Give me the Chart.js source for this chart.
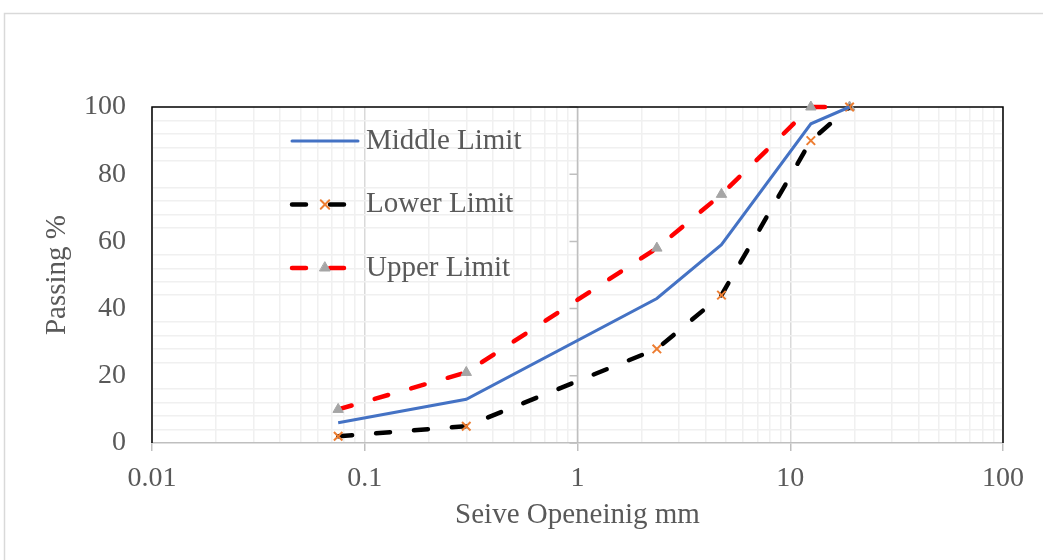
<!DOCTYPE html>
<html>
<head>
<meta charset="utf-8">
<script src="https://cdn.jsdelivr.net/npm/chart.js@4.4.1/dist/chart.umd.min.js"></script>
<style>
    body { margin: 0; background: #ffffff; overflow: hidden; }
</style>
</head>
<body>
<canvas id="grafico-peneira" width="1043" height="560"></canvas>
<script>
// Dados
const aberturas = [0.075, 0.3, 2.36, 4.75, 12.5, 19];
const limiteMedio = [6, 13, 43, 59, 95, 100];
const limiteInferior = [2, 5, 28, 44, 90, 100];
const limiteSuperior = [10, 21, 58, 74, 100, 100];
const nomesSeries = ['Middle Limit', 'Lower Limit', 'Upper Limit'];
const rotulosX = [0.01, 0.1, 1, 10, 100];
const rotulosY = [0, 20, 40, 60, 80, 100];

const corTexto = '#595959';
const fonteSerif = 'Liberation Serif';

// ticks do eixo log: decadas + 2..9 de cada decada
let ticksX = [];
for (var i = 0; i < rotulosX.length; i++) {
    ticksX.push(rotulosX[i]);
    if (i < rotulosX.length - 1) {
        for (var m = 2; m <= 9; m++) {
            ticksX.push(+(rotulosX[i] * m).toPrecision(3));
        }
    }
}

function pontos(valores) {
    return aberturas.map((x, i) => ({ x: x, y: valores[i] }));
}

const moldura = {
    id: 'moldura',
    beforeDraw(chart) {
        const ctx = chart.ctx;
        ctx.save();
        ctx.fillStyle = '#ffffff';
        ctx.fillRect(0, 0, chart.width, chart.height);
        ctx.strokeStyle = '#d9d9d9';
        ctx.lineWidth = 1.5;
        ctx.strokeRect(4.5, 13.5, chart.width + 10, chart.height + 10);
        ctx.restore();
    },
    beforeDatasetsDraw(chart) {
        const ctx = chart.ctx;
        const area = chart.chartArea;
        const x = chart.scales.x;
        const y = chart.scales.y;
        ctx.save();
        // eixo vertical cruzando em 1
        const x1 = x.getPixelForValue(1);
        ctx.strokeStyle = '#bfbfbf';
        ctx.lineWidth = 1.5;
        ctx.beginPath();
        ctx.moveTo(x1, area.top);
        ctx.lineTo(x1, area.bottom);
        rotulosY.forEach(v => {
            const py = y.getPixelForValue(v);
            ctx.moveTo(x1 - 8, py);
            ctx.lineTo(x1, py);
        });
        ctx.stroke();
        // borda preta da area de plotagem
        ctx.strokeStyle = '#000000';
        ctx.lineWidth = 1.5;
        ctx.beginPath();
        ctx.moveTo(area.left, area.bottom);
        ctx.lineTo(area.left, area.top);
        ctx.lineTo(area.right, area.top);
        ctx.lineTo(area.right, area.bottom);
        ctx.stroke();
        ctx.restore();
    },
    afterDatasetsDraw(chart) {
        // legenda dentro da area
        const ctx = chart.ctx;
        const area = chart.chartArea;
        const x0 = area.left + 140;
        const x1 = area.left + 206;
        ctx.save();
        chart.data.datasets.forEach((ds, i) => {
            const py = area.top + 34 + i * 63.5;
            ctx.strokeStyle = ds.borderColor;
            ctx.lineWidth = ds.borderWidth;
            ctx.lineCap = 'round';
            ctx.setLineDash(ds.borderDash || []);
            ctx.beginPath();
            ctx.moveTo(x0, py);
            ctx.lineTo(x1, py);
            ctx.stroke();
            ctx.setLineDash([]);
            if (ds.pointRadius > 0) {
                ctx.strokeStyle = ds.pointBorderColor;
                ctx.fillStyle = ds.pointBackgroundColor;
                ctx.lineWidth = ds.pointBorderWidth;
                Chart.helpers.drawPoint(ctx, {
                    pointStyle: ds.pointStyle,
                    radius: ds.pointRadius,
                    borderWidth: ds.pointBorderWidth,
                    rotation: 0
                }, (x0 + x1) / 2, py);
            }
            ctx.fillStyle = corTexto;
            ctx.font = '29px "' + fonteSerif + '"';
            ctx.textBaseline = 'middle';
            ctx.textAlign = 'left';
            ctx.fillText(ds.label, x1 + 8, py);
        });
        ctx.restore();
    }
};

const cty = document.getElementById('grafico-peneira');
const grafico = new Chart(cty, {
    type: 'line',
    data: {
        datasets: [
            {
                label: nomesSeries[0],
                data: pontos(limiteMedio),
                borderColor: '#4472c4',
                borderWidth: 3,
                pointRadius: 0,
                pointHoverRadius: 0,
                tension: 0,
                clip: false
            },
            {
                label: nomesSeries[1],
                data: pontos(limiteInferior),
                borderColor: '#000000',
                borderWidth: 4.5,
                borderDash: [14, 24],
                borderCapStyle: 'round',
                pointStyle: 'crossRot',
                pointRadius: 6,
                pointBorderWidth: 2,
                pointBorderColor: '#ed7d31',
                pointBackgroundColor: '#ed7d31',
                tension: 0,
                clip: false
            },
            {
                label: nomesSeries[2],
                data: pontos(limiteSuperior),
                borderColor: '#ff0000',
                borderWidth: 4.5,
                borderDash: [14, 24],
                borderCapStyle: 'round',
                pointStyle: 'triangle',
                pointRadius: 6,
                pointBorderWidth: 1,
                pointBorderColor: '#a5a5a5',
                pointBackgroundColor: '#a5a5a5',
                tension: 0,
                clip: false
            }
        ]
    },
    options: {
        responsive: false,
        animation: false,
        events: [],
        layout: {
            padding: { top: 107, right: 40, bottom: 0, left: 0 }
        },
        plugins: {
            legend: { display: false },
            tooltip: { enabled: false }
        },
        scales: {
            x: {
                type: 'logarithmic',
                min: 0.01,
                max: 100,
                afterBuildTicks: axis => {
                    axis.ticks = ticksX.map(v => ({ value: v }));
                },
                afterFit: axis => { axis.height = 117; },
                grid: {
                    color: c => rotulosX.includes(c.tick.value) ? '#d9d9d9' : '#f0f0f0',
                    lineWidth: 1.5,
                    tickLength: 8,
                    tickColor: c => rotulosX.includes(c.tick.value) ? '#bfbfbf' : 'rgba(0,0,0,0)',
                    tickWidth: 1.5
                },
                border: { color: '#bfbfbf', width: 1.5 },
                ticks: {
                    autoSkip: false,
                    maxRotation: 0,
                    padding: 11,
                    color: corTexto,
                    font: { family: fonteSerif, size: 28 },
                    callback: function (valor) {
                        return rotulosX.includes(valor) ? String(valor) : '';
                    }
                },
                title: {
                    display: true,
                    text: 'Seive Openeinig mm',
                    color: corTexto,
                    font: { family: fonteSerif, size: 29 },
                    padding: { top: 0, bottom: 27 }
                }
            },
            y: {
                min: 0,
                max: 100,
                afterFit: axis => { axis.width = 152; },
                grid: {
                    color: c => c.tick.value % 20 === 0 ? 'rgba(0,0,0,0)' : '#f0f0f0',
                    lineWidth: 1.5,
                    drawTicks: false
                },
                border: { display: false },
                ticks: {
                    stepSize: 4,
                    autoSkip: false,
                    padding: 26,
                    color: corTexto,
                    font: { family: fonteSerif, size: 28 },
                    callback: function (valor) {
                        return rotulosY.includes(valor) ? String(valor) : '';
                    }
                },
                title: {
                    display: true,
                    text: 'Passing %',
                    color: corTexto,
                    font: { family: fonteSerif, size: 29 },
                    padding: { top: 40, bottom: 0 }
                }
            }
        }
    },
    plugins: [moldura]
});
</script>
</body>
</html>
